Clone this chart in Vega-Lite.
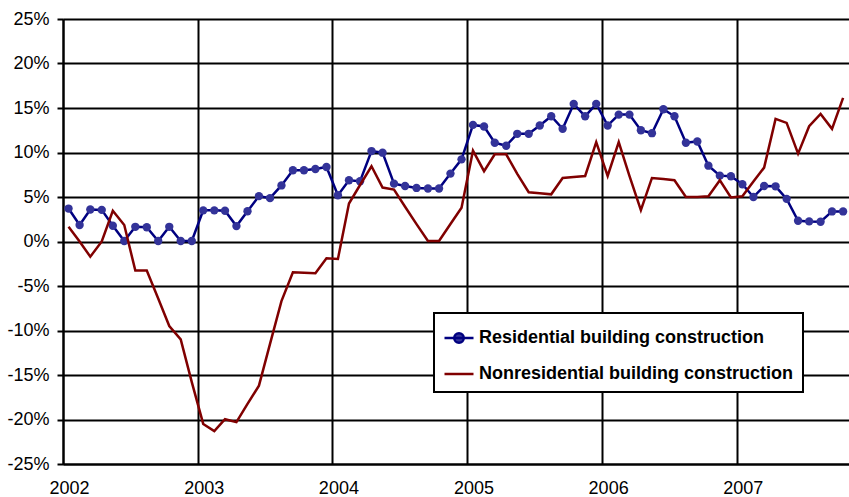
{
  "$schema": "https://vega.github.io/schema/vega-lite/v6.json",
  "width": 786,
  "height": 445,
  "autosize": {"type": "none"},
  "padding": {"left": 63, "top": 19, "right": 0, "bottom": 33},
  "background": "white",
  "config": {"view": {"stroke": null}, "font": "Liberation Sans"},
  "data": {
    "values": [
      {"date": "2002-01-16", "Residential building construction": 3.7, "Nonresidential building construction": 1.65},
      {"date": "2002-02-15", "Residential building construction": 1.85, "Nonresidential building construction": 0.0},
      {"date": "2002-03-16", "Residential building construction": 3.6, "Nonresidential building construction": -1.7},
      {"date": "2002-04-16", "Residential building construction": 3.55, "Nonresidential building construction": 0.0},
      {"date": "2002-05-16", "Residential building construction": 1.77, "Nonresidential building construction": 3.45},
      {"date": "2002-06-16", "Residential building construction": 0.05, "Nonresidential building construction": 1.85},
      {"date": "2002-07-16", "Residential building construction": 1.65, "Nonresidential building construction": -3.27},
      {"date": "2002-08-16", "Residential building construction": 1.6, "Nonresidential building construction": -3.27},
      {"date": "2002-09-16", "Residential building construction": 0.05, "Nonresidential building construction": -6.4},
      {"date": "2002-10-16", "Residential building construction": 1.65, "Nonresidential building construction": -9.5},
      {"date": "2002-11-16", "Residential building construction": 0.05, "Nonresidential building construction": -11.0},
      {"date": "2002-12-16", "Residential building construction": 0.05, "Nonresidential building construction": -15.8},
      {"date": "2003-01-16", "Residential building construction": 3.5, "Nonresidential building construction": -20.5},
      {"date": "2003-02-15", "Residential building construction": 3.5, "Nonresidential building construction": -21.3},
      {"date": "2003-03-16", "Residential building construction": 3.45, "Nonresidential building construction": -19.97},
      {"date": "2003-04-16", "Residential building construction": 1.73, "Nonresidential building construction": -20.3},
      {"date": "2003-05-16", "Residential building construction": 3.4, "Nonresidential building construction": -18.25},
      {"date": "2003-06-16", "Residential building construction": 5.1, "Nonresidential building construction": -16.2},
      {"date": "2003-07-16", "Residential building construction": 4.87, "Nonresidential building construction": -11.5},
      {"date": "2003-08-16", "Residential building construction": 6.3, "Nonresidential building construction": -6.7},
      {"date": "2003-09-16", "Residential building construction": 8.0, "Nonresidential building construction": -3.45},
      {"date": "2003-10-16", "Residential building construction": 8.0, "Nonresidential building construction": -3.5},
      {"date": "2003-11-16", "Residential building construction": 8.15, "Nonresidential building construction": -3.56},
      {"date": "2003-12-16", "Residential building construction": 8.37, "Nonresidential building construction": -1.88},
      {"date": "2004-01-16", "Residential building construction": 5.2, "Nonresidential building construction": -1.96},
      {"date": "2004-02-15", "Residential building construction": 6.88, "Nonresidential building construction": 4.27},
      {"date": "2004-03-16", "Residential building construction": 6.77, "Nonresidential building construction": 6.35},
      {"date": "2004-04-16", "Residential building construction": 10.16, "Nonresidential building construction": 8.45},
      {"date": "2004-05-16", "Residential building construction": 9.98, "Nonresidential building construction": 6.06},
      {"date": "2004-06-16", "Residential building construction": 6.5, "Nonresidential building construction": 5.84},
      {"date": "2004-07-16", "Residential building construction": 6.24, "Nonresidential building construction": 3.9},
      {"date": "2004-08-16", "Residential building construction": 6.02, "Nonresidential building construction": 1.95},
      {"date": "2004-09-16", "Residential building construction": 5.95, "Nonresidential building construction": 0.05},
      {"date": "2004-10-16", "Residential building construction": 5.95, "Nonresidential building construction": 0.05},
      {"date": "2004-11-16", "Residential building construction": 7.63, "Nonresidential building construction": 1.96},
      {"date": "2004-12-16", "Residential building construction": 9.23, "Nonresidential building construction": 3.8},
      {"date": "2005-01-16", "Residential building construction": 13.1, "Nonresidential building construction": 10.2},
      {"date": "2005-02-15", "Residential building construction": 12.92, "Nonresidential building construction": 7.9},
      {"date": "2005-03-16", "Residential building construction": 11.1, "Nonresidential building construction": 9.8},
      {"date": "2005-04-16", "Residential building construction": 10.76, "Nonresidential building construction": 9.8},
      {"date": "2005-05-16", "Residential building construction": 12.1, "Nonresidential building construction": 7.6},
      {"date": "2005-06-16", "Residential building construction": 12.1, "Nonresidential building construction": 5.54},
      {"date": "2005-07-16", "Residential building construction": 13.03, "Nonresidential building construction": 5.43},
      {"date": "2005-08-16", "Residential building construction": 14.07, "Nonresidential building construction": 5.3},
      {"date": "2005-09-16", "Residential building construction": 12.66, "Nonresidential building construction": 7.14},
      {"date": "2005-10-16", "Residential building construction": 15.46, "Nonresidential building construction": 7.25},
      {"date": "2005-11-16", "Residential building construction": 14.07, "Nonresidential building construction": 7.36},
      {"date": "2005-12-16", "Residential building construction": 15.46, "Nonresidential building construction": 11.16},
      {"date": "2006-01-16", "Residential building construction": 13.03, "Nonresidential building construction": 7.36},
      {"date": "2006-02-15", "Residential building construction": 14.26, "Nonresidential building construction": 11.16},
      {"date": "2006-03-16", "Residential building construction": 14.26, "Nonresidential building construction": 7.36},
      {"date": "2006-04-16", "Residential building construction": 12.5, "Nonresidential building construction": 3.52},
      {"date": "2006-05-16", "Residential building construction": 12.17, "Nonresidential building construction": 7.14},
      {"date": "2006-06-16", "Residential building construction": 14.86, "Nonresidential building construction": 7.03},
      {"date": "2006-07-16", "Residential building construction": 14.07, "Nonresidential building construction": 6.88},
      {"date": "2006-08-16", "Residential building construction": 11.1, "Nonresidential building construction": 5.01},
      {"date": "2006-09-16", "Residential building construction": 11.24, "Nonresidential building construction": 5.0},
      {"date": "2006-10-16", "Residential building construction": 8.52, "Nonresidential building construction": 5.09},
      {"date": "2006-11-16", "Residential building construction": 7.4, "Nonresidential building construction": 6.88},
      {"date": "2006-12-16", "Residential building construction": 7.33, "Nonresidential building construction": 4.94},
      {"date": "2007-01-16", "Residential building construction": 6.43, "Nonresidential building construction": 5.09},
      {"date": "2007-02-15", "Residential building construction": 5.0, "Nonresidential building construction": 6.73},
      {"date": "2007-03-16", "Residential building construction": 6.24, "Nonresidential building construction": 8.3},
      {"date": "2007-04-16", "Residential building construction": 6.2, "Nonresidential building construction": 13.78},
      {"date": "2007-05-16", "Residential building construction": 4.79, "Nonresidential building construction": 13.33},
      {"date": "2007-06-16", "Residential building construction": 2.33, "Nonresidential building construction": 9.87},
      {"date": "2007-07-16", "Residential building construction": 2.26, "Nonresidential building construction": 12.95},
      {"date": "2007-08-16", "Residential building construction": 2.22, "Nonresidential building construction": 14.34},
      {"date": "2007-09-16", "Residential building construction": 3.38, "Nonresidential building construction": 12.66},
      {"date": "2007-10-16", "Residential building construction": 3.38, "Nonresidential building construction": 16.13}
    ]
  },
  "transform": [
    {"fold": ["Residential building construction", "Nonresidential building construction"], "as": ["series", "value"]}
  ],
  "encoding": {
    "x": {
      "field": "date",
      "type": "temporal",
      "scale": {
        "type": "utc",
        "domain": [
          {"year": 2002, "month": 1, "date": 1, "utc": true},
          {"year": 2007, "month": 11, "date": 1, "utc": true}
        ]
      },
      "axis": {
        "values": [
          {"year": 2002, "month": 1, "date": 1, "utc": true},
          {"year": 2003, "month": 1, "date": 1, "utc": true},
          {"year": 2004, "month": 1, "date": 1, "utc": true},
          {"year": 2005, "month": 1, "date": 1, "utc": true},
          {"year": 2006, "month": 1, "date": 1, "utc": true},
          {"year": 2007, "month": 1, "date": 1, "utc": true}
        ],
        "format": "%Y",
        "formatType": "utc",
        "title": null,
        "grid": true,
        "gridColor": "black",
        "gridWidth": 2,
        "gridOpacity": 1,
        "ticks": false,
        "domainColor": "black",
        "domainWidth": 2,
        "labelFont": "Liberation Sans",
        "labelFontSize": 18,
        "labelColor": "black",
        "labelPadding": 15,
        "labelOffset": 6,
        "labelFlush": false,
        "labelOverlap": false
      }
    },
    "y": {
      "field": "value",
      "type": "quantitative",
      "scale": {"domain": [-25, 25], "nice": false, "zero": false},
      "axis": {
        "values": [-25, -20, -15, -10, -5, 0, 5, 10, 15, 20, 25],
        "labelExpr": "datum.value + '%'",
        "title": null,
        "grid": true,
        "gridColor": "black",
        "gridWidth": 2,
        "gridOpacity": 1,
        "tickColor": "black",
        "tickWidth": 2,
        "tickSize": 6,
        "domainColor": "black",
        "domainWidth": 2,
        "labelFont": "Liberation Sans",
        "labelFontSize": 18,
        "labelColor": "black",
        "labelPadding": 8
      }
    }
  },
  "layer": [
    {
      "transform": [{"filter": "datum.series === 'Residential building construction'"}],
      "mark": {"type": "line", "strokeWidth": 2.5},
      "encoding": {
        "color": {
          "field": "series",
          "type": "nominal",
          "scale": {
            "domain": ["Residential building construction", "Nonresidential building construction"],
            "range": ["#000080", "#800000"]
          },
          "legend": {
            "orient": "none",
            "legendX": 371,
            "legendY": 294,
            "title": null,
            "fillColor": "white",
            "strokeColor": "black",
            "padding": 9,
            "rowPadding": 10,
            "labelFont": "Liberation Sans",
            "labelFontSize": 18,
            "labelFontWeight": "bold",
            "labelColor": "black",
            "labelOffset": 4,
            "labelLimit": 0,
            "symbolSize": 841,
            "symbolStrokeWidth": 2.5,
            "encode": {
              "legend": {"update": {"strokeWidth": {"value": 2}}},
              "symbols": {
                "update": {
                  "shape": {"signal": "datum.value === 'Residential building construction' ? 'M-1,0H1M-0.33,0A0.33,0.33,0,1,1,0.33,0A0.33,0.33,0,1,1,-0.33,0Z' : 'M-1,0H1'"},
                  "fill": {"signal": "datum.value === 'Residential building construction' ? '#333399' : 'transparent'"},
                  "fillOpacity": {"value": 1},
                  "strokeWidth": {"value": 2.5},
                  "opacity": {"value": 1}
                }
              }
            }
          }
        }
      }
    },
    {
      "transform": [{"filter": "datum.series === 'Residential building construction'"}],
      "mark": {"type": "point", "filled": true, "size": 70, "color": "#333399", "opacity": 1}
    },
    {
      "transform": [{"filter": "datum.series === 'Nonresidential building construction'"}],
      "mark": {"type": "line", "strokeWidth": 2.5},
      "encoding": {
        "color": {"field": "series", "type": "nominal"}
      }
    }
  ]
}
